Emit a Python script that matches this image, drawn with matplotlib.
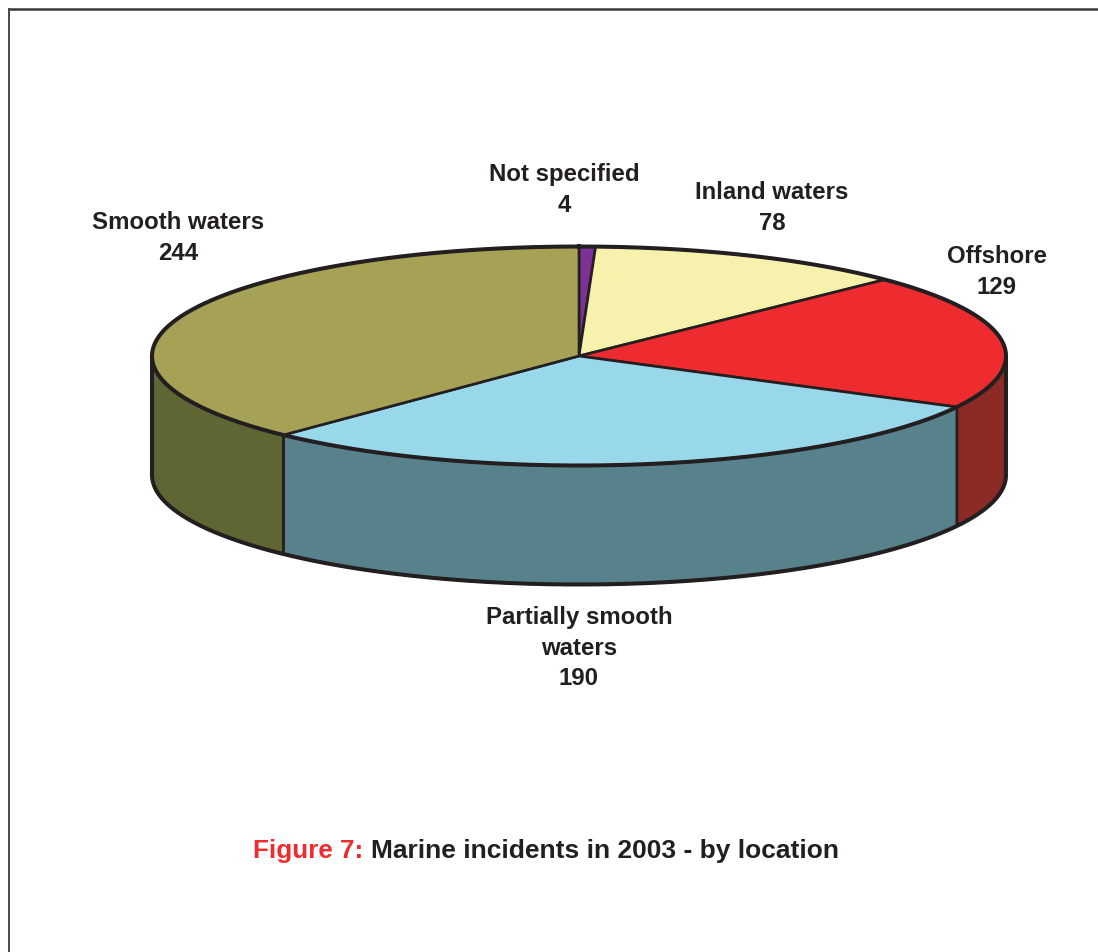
import numpy as np
import matplotlib
matplotlib.use("Agg")
import matplotlib.pyplot as plt
from matplotlib.patches import Polygon

categories = ["Not specified", "Inland waters", "Offshore", "Partially smooth\nwaters", "Smooth waters"]
values = [4, 78, 129, 190, 244]
top_colors = ["#7b3294", "#f6f2ad", "#ee2b2e", "#98d8ea", "#a5a256"]
side_colors = ["#4a1e5a", "#94926a", "#8c2a25", "#58828b", "#5f6533"]
label_xy = [(564, 175), (772, 193), (997, 257), (579, 618), (178, 223)]

INK = "#231f20"
CX, CY, RX, RY, DEPTH = 579, 356, 427, 109.5, 119
RIM_LW = 2.9
INNER_LW = 1.9

plt.rcParams["font.family"] = ["Liberation Sans", "DejaVu Sans"]
fig = plt.figure(figsize=(10.98, 9.52), dpi=100, facecolor="white")
ax = fig.add_axes([0, 0, 1, 1])
ax.set_xlim(0, 1098)
ax.set_ylim(952, 0)
ax.axis("off")

# Page frame: only the top and left rules are visible
ax.plot([1098, 9], [9, 9], color="#3a3a3a", lw=1.8, solid_capstyle="butt")
ax.plot([9, 9], [8, 952], color="#3a3a3a", lw=1.3, solid_capstyle="butt")


def rim(theta):
    """Point on the top ellipse; theta runs clockwise from twelve o'clock."""
    return CX + RX * np.sin(theta), CY - RY * np.cos(theta)


edges = np.concatenate([[0], np.cumsum(values)]) / sum(values) * 2 * np.pi

# Side walls exist only on the front half of the disc (pi/2 to 3*pi/2)
for start, stop, side in zip(edges[:-1], edges[1:], side_colors):
    lo, hi = max(start, np.pi / 2), min(stop, 3 * np.pi / 2)
    if lo >= hi:
        continue
    t = np.linspace(lo, hi, 200)
    x, y = rim(t)
    pts = np.column_stack([np.r_[x, x[::-1]], np.r_[y, y[::-1] + DEPTH]])
    ax.add_patch(Polygon(pts, closed=True, facecolor=side, edgecolor=INK, lw=INNER_LW, joinstyle="round", zorder=2))

# Top face wedges
for start, stop, top in zip(edges[:-1], edges[1:], top_colors):
    t = np.linspace(start, stop, 300)
    x, y = rim(t)
    pts = np.column_stack([np.r_[CX, x], np.r_[CY, y]])
    ax.add_patch(Polygon(pts, closed=True, facecolor=top, edgecolor=INK, lw=INNER_LW, joinstyle="round", zorder=3))

# Heavier outline: top ellipse, then the lower silhouette of the drum
t = np.linspace(0, 2 * np.pi, 800)
ax.plot(*rim(t), color=INK, lw=RIM_LW, zorder=4)
t = np.linspace(np.pi / 2, 3 * np.pi / 2, 400)
x, y = rim(t)
ax.plot(np.r_[x[0], x], np.r_[y[0], y + DEPTH], color=INK, lw=RIM_LW, zorder=4)
ax.plot([x[-1], x[-1]], [y[-1], y[-1] + DEPTH], color=INK, lw=RIM_LW, zorder=4)

for name, val, (lx, ly) in zip(categories, values, label_xy):
    ax.text(lx, ly - 12, f"{name}\n{val}", ha="center", va="top",
            fontsize=17.3, fontweight="bold", color=INK, linespacing=1.42)

# Caption, red prefix then black remainder
ax.text(363, 851, "Figure 7:", ha="right", va="center", fontsize=18.7, fontweight="bold", color="#ee2b2e")
ax.text(371, 851, "Marine incidents in 2003 - by location", ha="left", va="center",
        fontsize=19, fontweight="bold", color=INK)

fig.savefig("out.png", dpi=100)
